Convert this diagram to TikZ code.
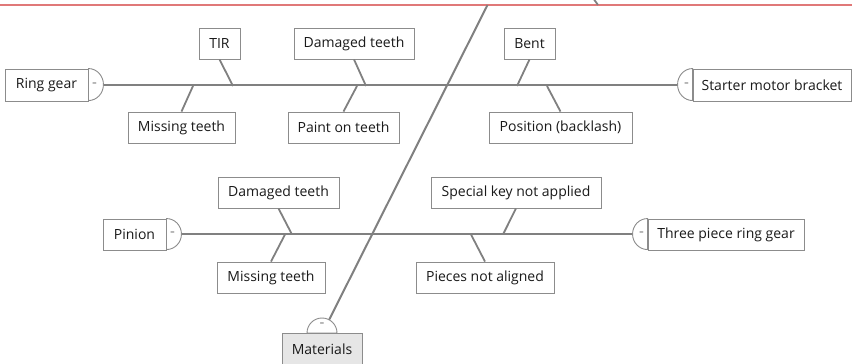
\documentclass[tikz,border=0pt]{standalone}
\usepackage{fontspec}
\setmainfont{Open Sans}
\usetikzlibrary{positioning,calc}
\definecolor{Bone}{HTML}{808080}
\definecolor{Frame}{HTML}{8C8C8C}
\definecolor{Ink}{HTML}{1A1A1A}
\definecolor{Rule}{HTML}{E07878}
\definecolor{Shade}{HTML}{E6E6E6}
\tikzset{
 cause/.style={draw=Frame, line width=0.9pt, fill=white, minimum height=32pt, inner sep=0pt, text=Ink, font=\fontsize{14}{16}\selectfont},
 subcause/.style={cause, minimum height=31pt},
 toggle/.style={draw=Frame, line width=0.9pt, fill=white},
 minus/.style={inner sep=0pt, text=Bone, font=\fontsize{15}{15}\selectfont},
 bone/.style={draw=Bone, line width=2pt},
 twig/.style={draw=Bone, line width=1.8pt}
}

\begin{document}
\begin{tikzpicture}[x=1pt,y=1pt]
\clip (0,0) rectangle (852,364);
% divider at the top
\draw[draw=Rule, line width=2pt] (0,359) -- (852,359);
\coordinate (upperA) at (593,366);
\coordinate (upperB) at (598,359);
\draw[twig] (upperA) -- (upperB);

% heads
\node[cause, minimum width=83] (ring) at (46.5,279) {Ring gear};
\node[cause, minimum width=158] (starter) at (772,279) {Starter motor bracket};
\node[cause, minimum width=63, minimum height=31] (pinion) at (134.5,129.5) {Pinion};
\node[cause, minimum width=156, minimum height=31] (three) at (726,129.5) {Three piece ring gear};
\node[cause, minimum width=80, fill=Shade, anchor=north] (mat) at (322,31) {Materials};

% causes, ring gear branch
\node[subcause, minimum width=41] (tir) at (219.5,320.5) {TIR};
\node[subcause, minimum width=120] (rdamaged) at (354,320.5) {Damaged teeth};
\node[subcause, minimum width=51] (bent) at (529.5,320.5) {Bent};
\node[subcause, minimum width=107] (rmissing) at (181.5,236.5) {Missing teeth};
\node[subcause, minimum width=111] (paint) at (343.5,236.5) {Paint on teeth};
\node[subcause, minimum width=143] (position) at (560.5,236.5) {Position (backlash)};

% causes, pinion branch
\node[subcause, minimum width=121] (pdamaged) at (278.5,171.5) {Damaged teeth};
\node[subcause, minimum width=170] (special) at (516,171.5) {Special key not applied};
\node[subcause, minimum width=108] (pmissing) at (271,86.5) {Missing teeth};
\node[subcause, minimum width=138] (pieces) at (485,86.5) {Pieces not aligned};

% spine
\coordinate (spinefoot) at (329,44);
\coordinate (spinetop) at (487.5,359);
\draw[bone] (spinefoot) -- (spinetop);

% branches
\draw[bone] ([xshift=15pt]ring.east) -- ([xshift=-15pt]starter.west);
\draw[bone] ([xshift=15pt]pinion.east) -- ([xshift=-15pt]three.west);

% joins on the branches
\coordinate (tirjoin) at (233,278);
\coordinate (rdamagedjoin) at (366,278);
\coordinate (bentjoin) at (517,278);
\coordinate (rmissingjoin) at (193,278);
\coordinate (paintjoin) at (357,278);
\coordinate (positionjoin) at (547,278);
\coordinate (pdamagedjoin) at (292,129.5);
\coordinate (specialjoin) at (503,129.5);
\coordinate (pmissingjoin) at (285,129.5);
\coordinate (piecesjoin) at (471,129.5);

\draw[twig] (tir.south) -- (tirjoin);
\draw[twig] (rdamaged.south) -- (rdamagedjoin);
\draw[twig] (bent.south) -- (bentjoin);
\draw[twig] (rmissing.north) -- (rmissingjoin);
\draw[twig] (paint.north) -- (paintjoin);
\draw[twig] (position.north) -- (positionjoin);
\draw[twig] (pdamaged.south) -- (pdamagedjoin);
\draw[twig] (special.south) -- (specialjoin);
\draw[twig] (pmissing.north) -- (pmissingjoin);
\draw[twig] (pieces.north) -- (piecesjoin);

% collapse toggles
\draw[toggle] (ring.north east) arc[start angle=90, end angle=-90, x radius=15, y radius=16] -- cycle;
\draw[toggle] (starter.north west) arc[start angle=90, end angle=270, x radius=15, y radius=16] -- cycle;
\draw[toggle] (pinion.north east) arc[start angle=90, end angle=-90, x radius=15, y radius=15.5] -- cycle;
\draw[toggle] (three.north west) arc[start angle=90, end angle=270, x radius=15, y radius=15.5] -- cycle;
\draw[toggle] ([xshift=15pt]mat.north) arc[start angle=0, end angle=180, radius=15] -- cycle;

\node[minus] (ringminus) at ([xshift=6pt]ring.east) {-};
\node[minus] (starterminus) at ([xshift=-6pt]starter.west) {-};
\node[minus] (pinionminus) at ([xshift=6pt]pinion.east) {-};
\node[minus] (threeminus) at ([xshift=-6pt]three.west) {-};
\node[minus] (matminus) at ([yshift=8pt]mat.north) {-};
\end{tikzpicture}
\end{document}
